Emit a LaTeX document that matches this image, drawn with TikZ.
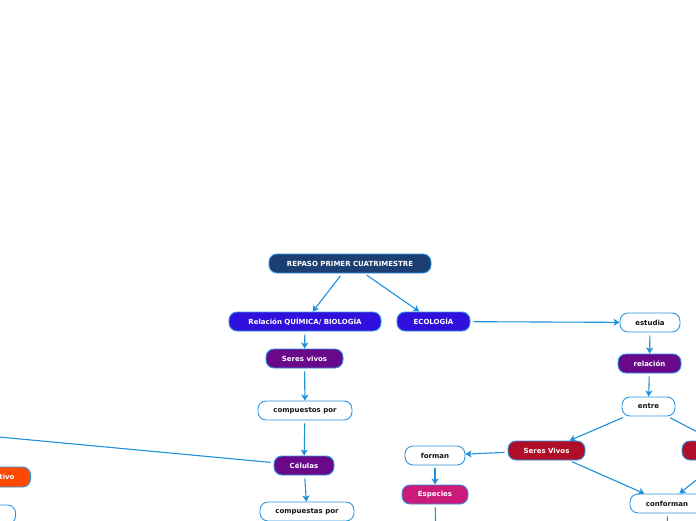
\documentclass[tikz,border=0pt]{standalone}
\usepackage{fontspec}
\setmainfont{DejaVu Sans}
\usetikzlibrary{arrows.meta}
\definecolor{navy}{RGB}{28,63,115}
\definecolor{vio}{RGB}{48,16,220}
\definecolor{purp}{RGB}{106,8,138}
\definecolor{crim}{RGB}{176,14,40}
\definecolor{mag}{RGB}{204,26,122}
\definecolor{orng}{RGB}{255,72,0}
\definecolor{bord}{RGB}{45,150,225}
\definecolor{conn}{RGB}{30,144,220}
\definecolor{txt}{RGB}{20,20,20}
\tikzset{
  box/.style={rounded corners=8pt, minimum height=19pt, draw=bord, line width=0.9pt,
    font=\fontsize{7}{8}\selectfont\bfseries, inner sep=0pt},
  darkbox/.style={box, text=white},
  lightbox/.style={box, fill=white, text=txt},
  link/.style={draw=conn, line width=1.1pt, shorten <=3pt},
  arr/.style={link, -{Stealth[length=6pt,width=7pt,inset=1.5pt]}}
}
\begin{document}
\begin{tikzpicture}[x=1pt,y=-1pt]
\fill[white] (0,0) rectangle (696,520);
\useasboundingbox (0,0) rectangle (696,520);
\clip (0,0) rectangle (696,520);

\node[darkbox, fill=navy, minimum width=162pt] (repaso) at (350,263.5) {REPASO PRIMER CUATRIMESTRE};
\node[darkbox, fill=vio, minimum width=152pt] (quim) at (305,321.5) {Relación QUÍMICA/ BIOLOGÍA};
\node[darkbox, fill=vio, minimum width=73pt] (eco) at (433.5,321.5) {ECOLOGÍA};
\node[darkbox, fill=purp, minimum width=77pt] (seres) at (304.5,358.5) {Seres vivos};
\node[lightbox, minimum width=94pt] (compuestos) at (305,410.5) {compuestos por};
\node[darkbox, fill=purp, minimum width=60pt] (celulas) at (304,465.5) {Células};
\node[lightbox, minimum width=94pt] (compuestas) at (307,511.5) {compuestas por};

\node[darkbox, fill=orng, text width=60pt, align=right, inner xsep=16pt, minimum height=20pt, anchor=east] (orange) at (31,477) {tivo};
\node[lightbox, minimum width=80pt, anchor=east] (white1) at (16,514.5) {};

\node[lightbox, minimum width=60pt] (estudia) at (650,322.5) {estudia};
\node[darkbox, fill=purp, minimum width=63pt] (relacion) at (649.5,363.5) {relación};
\node[lightbox, minimum width=53pt] (entre) at (648.5,406.5) {entre};
\node[darkbox, fill=crim, minimum width=77pt] (vivos) at (546.5,450.5) {Seres Vivos};
\node[darkbox, fill=crim, minimum width=102pt] (red2) at (733,450.5) {};
\node[lightbox, minimum width=60pt] (forman) at (435,455.5) {forman};
\node[darkbox, fill=mag, minimum width=66pt] (especies) at (435,494.5) {Especies};
\node[lightbox, minimum width=74pt] (conforman) at (667,503.5) {conforman};

\coordinate (offL) at (-30,434.3);
\coordinate (espD) at (436,545);
\coordinate (conD) at (668,545);

\draw[arr] (repaso) -- (quim);
\draw[arr] (repaso) -- (eco);
\draw[arr] (quim) -- (seres);
\draw[arr] (seres) -- (compuestos);
\draw[arr] (compuestos) -- (celulas);
\draw[arr] (celulas) -- (compuestas);
\draw[link] (celulas) -- (offL);
\draw[arr] (eco) -- (estudia);
\draw[arr] (estudia) -- (relacion);
\draw[arr] (relacion) -- (entre);
\draw[arr] (entre) -- (vivos);
\draw[arr] (entre) -- (red2);
\draw[arr] (vivos) -- (forman);
\draw[arr] (forman) -- (especies);
\draw[link] (especies) -- (espD);
\draw[arr] (vivos) -- (conforman);
\draw[arr] (red2) -- (conforman);
\draw[link] (conforman) -- (conD);
\end{tikzpicture}
\end{document}
